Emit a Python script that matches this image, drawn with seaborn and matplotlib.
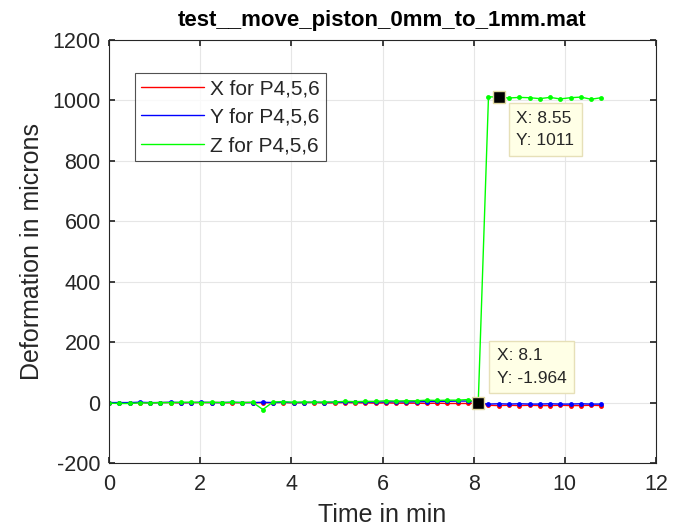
import numpy as np
import pandas as pd
import matplotlib
matplotlib.use("Agg")
import matplotlib.pyplot as plt
import seaborn as sns

# ---- data ----
time_min = [0.0, 0.225, 0.45, 0.675, 0.9, 1.125, 1.35, 1.575, 1.8, 2.025,
            2.25, 2.475, 2.7, 2.925, 3.15, 3.375, 3.6, 3.825, 4.05, 4.275,
            4.5, 4.725, 4.95, 5.175, 5.4, 5.625, 5.85, 6.075, 6.3, 6.525,
            6.75, 6.975, 7.2, 7.425, 7.65, 7.875, 8.1,
            8.325, 8.55, 8.775, 9.0, 9.225, 9.45, 9.675, 9.9, 10.125,
            10.35, 10.575, 10.8]

x_p456 = [0, -1, -1, 0, -1, 0, 0, -1, 0, 0,
          0, 0, -1, 0, 0, -1, 0, 0, -1, 0,
          0, -1, -1, 0, -1, -1, -2, -1, -2, -2,
          -2, -3, -2, -3, -3, -3, -2,
          -9, -10, -9, -10, -9, -10, -10, -9, -10, -10, -9, -10]

y_p456 = [0, 0, 0, 1, 0, 0, 1, 0, 0, 1,
          0, 0, 1, 0, 0, 1, 0, 1, 0, 0,
          1, 0, 1, 1, 2, 1, 2, 2, 3, 2,
          3, 3, 4, 4, 5, 5, -1,
          -5, -4, -5, -4, -5, -5, -4, -5, -5, -4, -5, -5]

z_p456 = [-2, -3, -3, -1, -1, 0, 0, 1, 1, 0,
          1, 0, 1, 0, 1, -23, 2, 3, 1, 2,
          1, 2, 2, 4, 3, 4, 4, 6, 5, 6,
          6, 8, 7, 8, 8, 10, -1.964,
          1012, 1011, 1008, 1010, 1009, 1006, 1010, 1005, 1009, 1011, 1004, 1009]

series_names = ["X for P4,5,6", "Y for P4,5,6", "Z for P4,5,6"]
series_colors = ["#ff0000", "#0000ff", "#00ff00"]

tip_points = [(8.55, 1011), (8.1, -1.964)]
tip_texts = ["X: 8.55\nY: 1011", "X: 8.1\nY: -1.964"]

df = pd.DataFrame({
    "t": time_min * 3,
    "v": x_p456 + y_p456 + z_p456,
    "s": [series_names[0]] * len(time_min) + [series_names[1]] * len(time_min)
         + [series_names[2]] * len(time_min),
})

sns.set_theme(style="white")
plt.rcParams["font.family"] = ["Liberation Sans", "DejaVu Sans"]
plt.rcParams["axes.unicode_minus"] = False

fig = plt.figure(figsize=(6.81, 5.29), dpi=100)
ax = fig.add_axes([109 / 681, 1 - 463 / 529, (656 - 109) / 681, (463 - 40) / 529])

sns.lineplot(data=df, x="t", y="v", hue="s", hue_order=series_names,
             palette=series_colors, marker="o", markersize=3.5,
             markeredgewidth=0, linewidth=1.0, ax=ax, legend=True,
             sort=False, estimator=None)

# data tips
offsets_px = [(10, -6), (11, 10)]
for (px, py), txt, off in zip(tip_points, tip_texts, offsets_px):
    ax.plot([px], [py], marker="s", color="black", markersize=8,
            markeredgecolor="#e0d8a0", markeredgewidth=1, zorder=5)
    va = "top" if off[1] < 0 else "bottom"
    fs = 12.5
    pad_pt = 5.5
    offp = (off[0] / 1.389 + pad_pt, off[1] / 1.389 + (-pad_pt if off[1] < 0 else pad_pt))
    ax.annotate(txt, xy=(px, py), xytext=offp, textcoords="offset points",
                ha="left", va=va, fontsize=fs, color="#262626",
                linespacing=1.6,
                bbox=dict(boxstyle=f"square,pad={pad_pt / fs}", fc="#ffffe6",
                          ec="#e6e0b8", lw=1.0), zorder=6)

ax.set_xlim(0, 12)
ax.set_ylim(-200, 1200)
ax.set_xticks(range(0, 13, 2))
ax.set_yticks(range(-200, 1201, 200))
ax.grid(True, color="#e6e6e6", linewidth=0.8)
ax.tick_params(axis="both", labelsize=15.5, direction="in", length=4,
               colors="#262626", left=True, bottom=True, top=True, right=True)
ax.tick_params(axis="y", pad=6)
ax.tick_params(axis="x", pad=8)
for sp in ax.spines.values():
    sp.set_color("#262626")
    sp.set_linewidth(0.8)

ax.set_xlabel("Time in min", fontsize=18, color="#262626", labelpad=6)
ax.set_ylabel("Deformation in microns", fontsize=18, color="#262626", labelpad=6)
ax.set_title("test__move_piston_0mm_to_1mm.mat", fontsize=16,
             fontweight="bold", color="black", pad=10)

handles, labels = ax.get_legend_handles_labels()
for h in handles:
    h.set_marker("")
leg = ax.legend(handles, labels, loc="upper left",
                bbox_to_anchor=(26 / 547, 1 - 33 / 423), fontsize=15,
                frameon=True, fancybox=False, borderpad=0.3,
                handlelength=3.0, handletextpad=0.3, labelspacing=0.45,
                borderaxespad=0)
leg.get_frame().set_edgecolor("#262626")
leg.get_frame().set_linewidth(0.8)

fig.savefig("out.png", dpi=100)
